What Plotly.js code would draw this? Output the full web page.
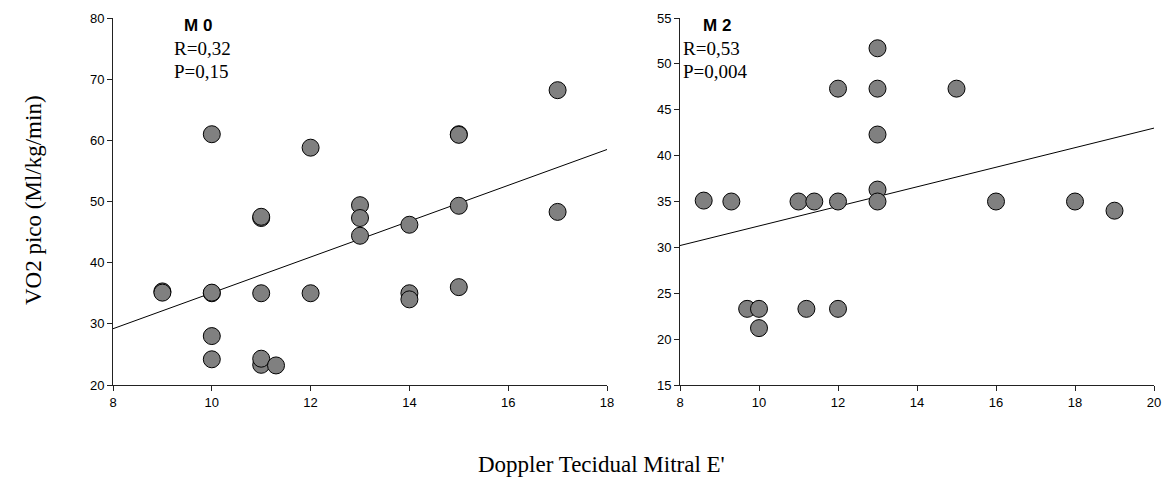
<!DOCTYPE html>
<html>
<head>
<meta charset="utf-8">
<script src="https://cdn.plot.ly/plotly-3.0.1.min.js"></script>
<style>html,body{margin:0;padding:0;background:#fff;}#chart{width:1163px;height:487px;}</style>
</head>
<body>
<div id="chart"></div>
<script>
// M0 panel data
const m0X = [9, 9, 10, 10, 10, 10, 10, 11, 11, 11, 11, 11, 11.3, 12, 12, 13, 13, 13, 14, 14, 14, 15, 15, 15, 15, 17, 17];
const m0Y = [35.3, 35.1, 61, 35, 35.1, 28, 24.2, 47.3, 47.5, 35, 23.3, 24.3, 23.2, 58.8, 35, 49.4, 47.3, 44.4, 46.2, 35, 34, 61, 60.9, 49.3, 36, 68.2, 48.3];
const m0TrendX = [8, 18];
const m0TrendY = [29.2, 58.5];

// M2 panel data
const m2X = [8.6, 9.3, 9.7, 10, 10, 11, 11.4, 11.2, 12, 12, 12, 13, 13, 13, 13, 13, 15, 16, 18, 19];
const m2Y = [35.1, 35, 23.3, 23.3, 21.2, 35, 35, 23.3, 47.3, 35, 23.3, 51.7, 47.3, 42.3, 36.3, 35, 47.3, 35, 35, 34];
const m2TrendX = [8, 20];
const m2TrendY = [30.2, 43];

const marker = {size: 17, color: '#808080', line: {color: '#000', width: 1}};
const traces = [
  {x: m0TrendX, y: m0TrendY, mode: 'lines', line: {color: '#000', width: 1}, xaxis: 'x', yaxis: 'y', hoverinfo: 'skip'},
  {x: m0X, y: m0Y, mode: 'markers', marker: marker, xaxis: 'x', yaxis: 'y'},
  {x: m2TrendX, y: m2TrendY, mode: 'lines', line: {color: '#000', width: 1}, xaxis: 'x2', yaxis: 'y2', hoverinfo: 'skip'},
  {x: m2X, y: m2Y, mode: 'markers', marker: marker, xaxis: 'x2', yaxis: 'y2'}
];

const sans = 'Liberation Sans, Arial, sans-serif';
const serif = 'Liberation Serif, Times New Roman, serif';
const axBase = {
  showgrid: false, zeroline: false, showline: true, linecolor: '#222', linewidth: 1,
  ticks: 'outside', ticklen: 5, tickcolor: '#222', tickwidth: 1,
  tickfont: {family: sans, size: 13, color: '#000'}
};
const yDom = [1 - 385/487, 1 - 18/487];
function ann(text, x, y, xanchor, font) {
  return {text: text, xref: 'paper', yref: 'paper', x: x/1163, y: 1 - y/487, xanchor: xanchor, yanchor: 'middle', showarrow: false, font: font};
}
const layout = {
  width: 1163, height: 487,
  margin: {l: 0, r: 0, t: 0, b: 0},
  paper_bgcolor: '#fff', plot_bgcolor: '#fff',
  showlegend: false,
  xaxis: Object.assign({}, axBase, {domain: [113/1163, 607/1163], range: [8, 18], dtick: 2, anchor: 'y'}),
  yaxis: Object.assign({}, axBase, {domain: yDom, range: [20, 80], dtick: 10, anchor: 'x'}),
  xaxis2: Object.assign({}, axBase, {domain: [680/1163, 1154/1163], range: [8, 20], dtick: 2, anchor: 'y2'}),
  yaxis2: Object.assign({}, axBase, {domain: yDom, range: [15, 55], dtick: 5, anchor: 'x2'}),
  annotations: [
    ann('<b>M 0</b>', 198, 25, 'center', {family: sans, size: 17, color: '#000'}),
    ann('R=0,32', 172, 49, 'left', {family: serif, size: 19, color: '#000'}),
    ann('P=0,15', 172, 71, 'left', {family: serif, size: 19, color: '#000'}),
    ann('<b>M 2</b>', 717, 25, 'center', {family: sans, size: 17, color: '#000'}),
    ann('R=0,53', 681, 49, 'left', {family: serif, size: 19, color: '#000'}),
    ann('P=0,004', 681, 71, 'left', {family: serif, size: 19, color: '#000'}),
    Object.assign(ann('VO2 pico (Ml/kg/min)', 33, 200, 'center', {family: serif, size: 23, color: '#000'}), {textangle: -90}),
    ann("Doppler Tecidual Mitral E'", 601, 464, 'center', {family: serif, size: 23, color: '#000'})
  ]
};
Plotly.newPlot('chart', traces, layout, {displayModeBar: false, staticPlot: true});
</script>
</body>
</html>
